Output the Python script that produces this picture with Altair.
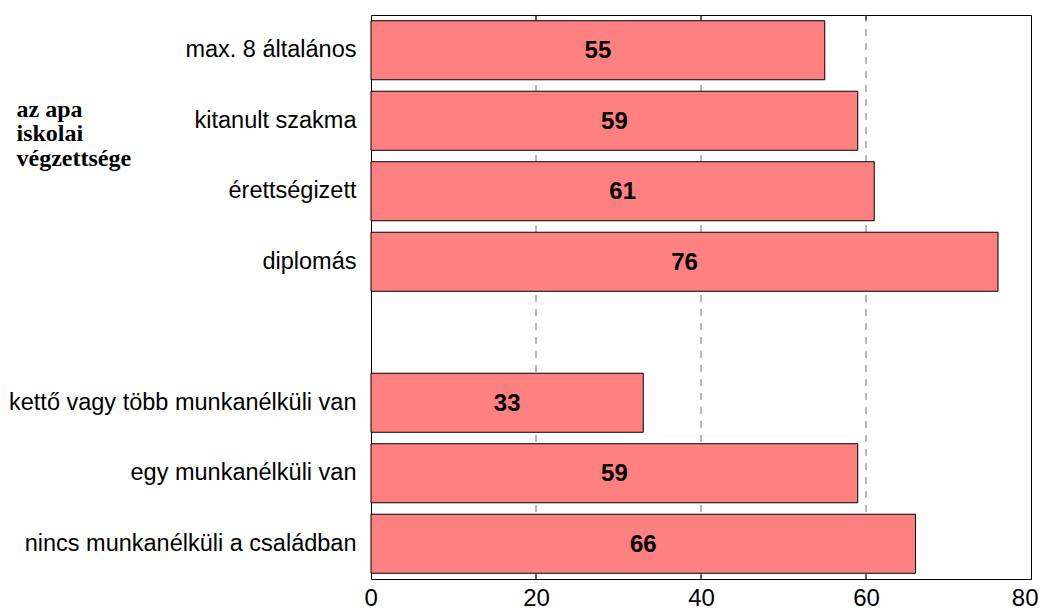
import altair as alt
import pandas as pd

categories = [
    "max. 8 általános",
    "kitanult szakma",
    "érettségizett",
    "diplomás",
    " ",
    "kettő vagy több munkanélküli van",
    "egy munkanélküli van",
    "nincs munkanélküli a családban",
]
values = [55, 59, 61, 76, None, 33, 59, 66]
grid_values = [20, 40, 60]
tick_labels = [0, 20, 40, 60, 80]
group_title = ["az apa", "iskolai", "végzettsége"]

rows = [{"cat": c, "val": v} for c, v in zip(categories, values) if v is not None]
df = pd.DataFrame(rows)
grid_df = pd.DataFrame({"v": grid_values})

W, H = 660, 564

xscale = alt.Scale(domain=[0, 80], nice=False, zero=True)
yscale = alt.Scale(domain=categories, paddingInner=0.163, paddingOuter=0.0815)

xaxis = alt.Axis(
    values=tick_labels, title=None, grid=False, ticks=False, domain=False,
    labelFont="Liberation Sans", labelFontSize=24, labelColor="black",
    labelPadding=7, labelFlush=True, labelFlushOffset=7, labelOverlap=False,
)
yaxis = alt.Axis(
    title=group_title, titleAngle=0, titleAlign="left", titleBaseline="alphabetic",
    titleX=-355, titleY=101, titleFont="Liberation Serif", titleFontSize=24,
    titleFontWeight="bold", titleColor="black", titleLineHeight=24.5,
    ticks=False, domain=False, grid=False,
    labelFont="Liberation Sans", labelFontSize=23.5, labelColor="black",
    labelPadding=15, labelLimit=400,
)

grid = alt.Chart(grid_df).mark_rule(color="#707070", strokeDash=[7, 7], strokeWidth=1).encode(
    x=alt.X("v:Q", scale=xscale, axis=xaxis)
)
ticks_top = alt.Chart(grid_df).mark_rule(color="black", strokeWidth=1).encode(
    x=alt.X("v:Q", scale=xscale, axis=xaxis), y=alt.value(0), y2=alt.value(5)
)
ticks_bot = alt.Chart(grid_df).mark_rule(color="black", strokeWidth=1).encode(
    x=alt.X("v:Q", scale=xscale, axis=xaxis), y=alt.value(H - 5), y2=alt.value(H)
)

bars = alt.Chart(df).mark_bar(color="#FF8080", stroke="black", strokeWidth=1).encode(
    y=alt.Y("cat:N", sort=categories, scale=yscale, axis=yaxis),
    x=alt.X("val:Q", scale=xscale, axis=xaxis),
)

labels = alt.Chart(df).transform_calculate(mid="datum.val / 2").mark_text(
    font="Liberation Sans", fontSize=24, fontWeight="bold", color="black",
    align="center", baseline="middle", dy=1,
).encode(
    y=alt.Y("cat:N", sort=categories, scale=yscale, axis=yaxis),
    x=alt.X("mid:Q", scale=xscale, axis=xaxis),
    text=alt.Text("val:Q"),
)

chart = alt.layer(grid, ticks_top, ticks_bot, bars, labels).properties(
    width=W, height=H,
    padding={"left": 363, "top": 7, "right": 7, "bottom": 30},
    autosize="none",
    background="white",
).configure_view(stroke="black", strokeWidth=1)

chart.save("out.html", embed_options={"renderer": "svg", "actions": False})
